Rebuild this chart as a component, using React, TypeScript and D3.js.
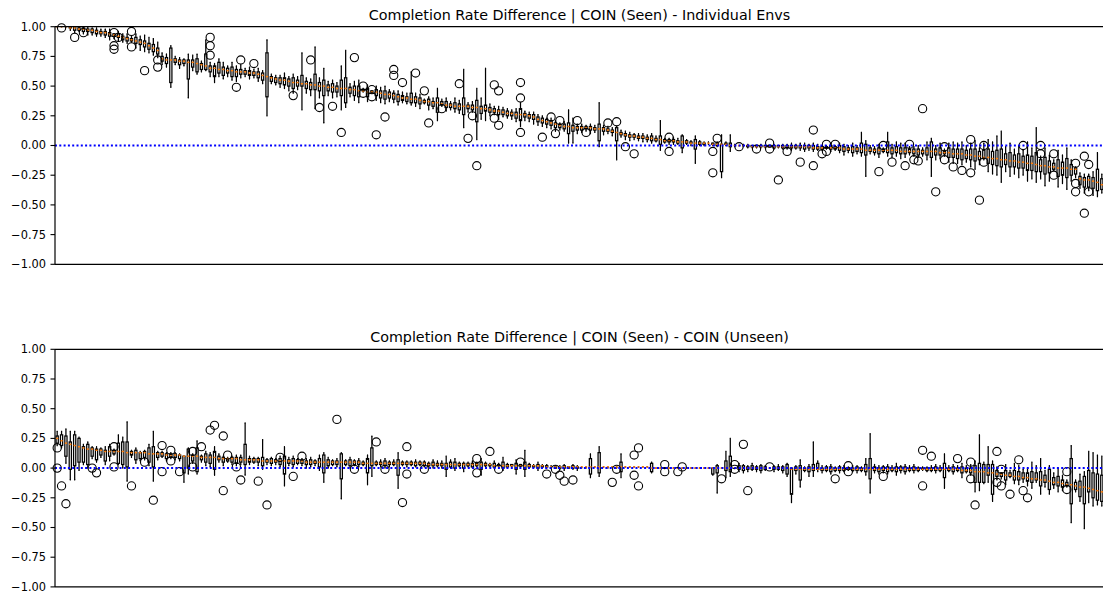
import React from 'react';
import * as d3 from 'd3';

// values are in hundredths (−100 … 100 ↔ −1.00 … 1.00)
const N = 240;
const yTicks = [-100, -75, -50, -25, 0, 25, 50, 75, 100];
const yTickLabels = ['−1.00', '−0.75', '−0.50', '−0.25', '0.00', '0.25', '0.50', '0.75', '1.00'];
const titles = [
  'Completion Rate Difference | COIN (Seen) - Individual Envs',
  'Completion Rate Difference | COIN (Seen) - COIN (Unseen)',
];

// ---------- Panel 1 ----------
const p1Lo = [
  100,100,100,97,95,96,94,93,93,92,
  92,91,89,90,88,87,86,87,82,80,
  79,78,76,74,68,66,49,68,65,67,
  40,63,60,62,63,58,53,58,56,58,
  55,54,57,58,56,57,54,52,25,52,
  51,49,48,46,44,47,30,44,42,31,
  40,19,42,40,41,30,32,41,38,36,
  45,37,44,38,36,35,37,36,34,36,
  35,34,33,31,35,30,31,21,33,29,
  30,28,27,15,28,28,5,22,21,25,
  26,22,24,23,22,20,16,21,20,18,
  17,16,15,14,12,13,12,2,2,10,
  11,12,10,11,-1,9,10,8,-12,7,
  5,4,5,4,3,3,2,3,-4,2,
  1,1,1,-6,1,0,-15,0,0,1,
  0,-1,-27,0,-5,-1,0,-1,-2,-2,
  -2,-2,-2,-1,-3,-2,-3,-3,-4,-3,
  -4,-5,-4,-5,-4,-4,-3,-5,-4,-6,
  -8,-6,-9,-7,-9,-26,-7,-8,-10,-6,
  -9,-10,-9,-11,-10,-8,-9,-10,-9,-12,
  -26,-12,-11,-9,-14,-15,-15,-16,-14,-18,
  -20,-16,-12,-22,-24,-25,-31,-22,-26,-24,
  -27,-25,-30,-28,-31,-28,-34,-30,-21,-35,
  -32,-37,-30,-27,-36,-40,-38,-42,-43,-40,
];
const p1Q1 = [
  100,100,100,99,97,97,96,96,95,94,
  94,93,92,92,91,89,88,88,86,85,
  83,81,79,77,71,69,53,70,68,69,
  56,66,62,64,64,62,58,61,59,61,
  58,58,60,60,59,59,57,55,41,54,
  53,52,51,50,48,50,50,48,47,47,
  46,42,46,45,45,42,36,44,42,41,
  46,41,45,42,40,39,40,39,37,38,
  37,36,36,35,36,34,33,28,34,32,
  32,31,30,26,31,30,20,27,29,28,
  28,26,26,25,25,23,21,24,23,22,
  20,19,18,17,15,15,14,10,12,13,
  13,14,13,13,4,12,12,11,4,9,
  8,7,7,6,6,5,4,4,1,3,
  3,3,2,-2,2,2,-3,1,1,2,
  1,0,-22,1,-1,0,0,0,-1,-1,
  -1,-1,-1,-1,-2,-1,-2,-2,-2,-2,
  -2,-3,-2,-3,-3,-3,-2,-3,-3,-4,
  -5,-4,-6,-5,-6,-8,-5,-6,-7,-5,
  -6,-7,-6,-7,-7,-6,-7,-8,-7,-8,
  -10,-8,-8,-7,-10,-10,-11,-12,-11,-12,
  -13,-12,-11,-15,-16,-17,-18,-16,-18,-18,
  -19,-19,-21,-21,-22,-22,-24,-23,-20,-26,
  -25,-27,-25,-24,-33,-35,-35,-36,-38,-37,
];
const p1Med = [
  100,100,100,99,99,98,98,97,97,96,
  95,95,94,93,92,91,90,89,88,87,
  86,84,82,80,73,72,72,72,71,71,
  70,70,69,68,67,65,65,64,64,63,
  63,62,62,62,61,61,60,59,58,57,
  56,55,55,54,53,53,52,52,51,51,
  50,50,49,49,48,48,48,47,47,46,
  46,45,45,45,44,43,43,42,41,40,
  40,39,39,38,37,37,36,36,35,34,
  34,33,33,33,33,32,32,31,31,30,
  29,29,28,27,27,26,26,26,25,24,
  22,21,20,19,18,17,16,16,15,15,
  15,15,15,14,14,14,13,12,11,10,
  9,8,8,7,7,6,6,5,5,4,
  4,4,3,3,3,2,2,2,2,2,
  1,1,1,1,0,0,0,0,0,-1,
  -1,-1,-1,-1,-1,-1,-1,-1,-1,-1,
  -1,-1,-1,-2,-2,-2,-2,-2,-2,-2,
  -3,-3,-3,-3,-3,-4,-4,-4,-4,-4,
  -4,-4,-4,-5,-5,-5,-5,-5,-5,-5,
  -5,-5,-6,-6,-6,-7,-7,-7,-8,-8,
  -9,-9,-10,-10,-11,-11,-12,-12,-13,-13,
  -14,-14,-15,-15,-16,-17,-17,-18,-18,-19,
  -19,-19,-20,-20,-28,-29,-29,-30,-31,-33,
];
const p1Q3 = [
  100,100,100,100,100,99,99,98,98,97,
  96,96,95,94,94,92,91,90,91,89,
  88,86,85,82,75,74,82,73,72,72,
  72,72,73,69,77,67,67,70,66,65,
  66,64,64,63,63,62,62,61,78,58,
  57,57,57,56,57,55,59,54,53,60,
  53,55,51,52,50,55,57,49,50,50,
  47,48,46,47,46,46,45,44,43,42,
  41,44,41,40,38,39,37,40,37,37,
  35,36,35,40,34,34,38,33,34,32,
  31,30,30,29,28,28,31,27,26,26,
  24,23,22,21,19,18,18,19,17,16,
  16,16,16,15,18,15,14,13,15,11,
  10,9,9,8,8,7,8,6,8,5,
  5,5,4,8,4,3,5,3,2,2,
  2,2,1,2,2,0,0,0,0,0,
  0,0,0,0,0,0,0,0,0,0,
  0,0,0,0,-1,-1,-1,0,-1,0,
  -1,-2,-1,-2,2,1,-2,-3,-2,-3,
  3,-2,-1,-2,-2,-3,-3,-3,-4,-2,
  3,-3,-2,-5,-2,-3,-3,-3,-4,-3,
  -3,-5,-4,-3,-5,-4,-3,-7,-6,-8,
  -7,-9,-8,-9,-6,-12,-10,-13,-15,-12,
  -14,-11,-16,-19,-26,-27,-26,-27,-20,-28,
];
const p1Hi = [
  100,100,100,100,100,100,100,100,99,99,
  98,98,98,94,96,94,94,92,94,92,
  93,91,90,87,78,77,84,75,74,73,
  77,76,77,71,89,70,69,73,70,67,
  70,67,68,65,66,64,65,63,89,60,
  59,59,61,58,60,58,78,57,56,83,
  57,65,54,55,53,67,80,52,54,55,
  48,51,46,50,49,50,47,46,46,45,
  44,62,44,43,39,41,40,48,39,40,
  37,40,38,64,36,37,48,40,65,35,
  33,33,32,31,30,31,36,29,28,28,
  26,25,23,23,21,19,20,30,23,18,
  18,17,18,17,36,17,16,15,16,13,
  12,11,10,10,10,9,10,8,21,6,
  6,7,6,9,5,4,8,4,3,3,
  2,3,9,3,9,1,0,1,1,0,
  0,1,0,0,1,0,1,1,2,1,
  2,2,1,2,1,0,0,2,0,2,
  1,0,2,0,11,4,0,-1,1,-2,
  11,1,3,2,2,-1,-1,0,-2,3,
  6,0,2,-3,2,3,2,3,0,2,
  4,-2,2,5,3,8,12,-1,2,-3,
  0,-4,3,-2,15,-9,-2,-8,-12,-4,
  -8,-2,-12,-18,-23,-24,-24,-22,-6,-24,
];
const p1Out = [
  [1,99],[4,91],[6,95],[13,95],[13,84],[13,81],[14,91],[17,96],[17,83],[20,63],[23,66],[23,72],
  [35,91],[35,84],[35,76],[41,49],[42,72],[45,69],[54,42],[58,72],[60,32],[63,33],[65,11],[68,74],
  [70,50],[70,44],[72,47],[72,41],[73,9],[75,24],[77,64],[77,59],[79,53],[82,61],[84,46],[85,19],
  [88,31],[92,52],[94,6],[95,25],[96,-17],[100,51],[100,23],[101,46],[101,17],[106,53],[106,40],
  [106,11],[111,7],[113,24],[114,10],[115,21],[119,21],[121,11],[126,19],[128,20],[130,-1],[132,-7],
  [140,7],[140,-5],[150,-23],[150,-5],[151,6],[156,-1],[160,-3],[163,2],[163,-3],[165,-29],[167,-5],
  [170,-14],[173,13],[173,-17],[175,-7],[176,-5],[176,1],[178,1],[188,-22],[189,0],[191,-14],
  [194,-17],[195,1],[196,-12],[197,-13],[198,31],[201,-39],[203,-1],[203,-12],[205,-18],[207,-21],
  [209,5],[209,-23],[211,-46],[212,0],[212,-14],[221,0],[225,0],[225,-7],[228,-7],[228,-25],
  [233,-15],[233,-32],[233,-39],[235,-9],[235,-57],[236,-16],[236,-39],
];

// ---------- Panel 2 ----------
const p2Lo = [
  19,17,4,-10,-10,-2,3,0,8,5,
  9,3,6,11,3,0,-11,9,4,6,
  7,2,-11,7,9,6,8,7,6,-12,
  -5,4,-5,5,2,1,-6,5,2,5,
  3,2,3,-6,3,4,2,-1,3,2,
  3,1,-15,2,1,3,2,0,1,2,
  -2,-12,0,2,1,-26,2,0,2,1,
  2,-14,-7,2,1,0,1,2,-17,2,
  1,2,1,2,1,1,0,1,0,-7,
  0,-2,1,-3,1,0,1,-6,1,1,
  0,1,-2,0,1,-5,1,-7,0,1,
  -2,0,0,0,0,-1,-2,0,-1,-2,
  0,0,-8,1,-7,1,0,1,0,-8,
  1,1,1,1,1,1,-4,0,0,0,
  0,0,0,0,0,0,0,0,0,0,
  -6,-21,0,-8,-7,0,-3,-4,-3,-2,
  -3,-4,-2,0,-3,-2,-4,-7,-29,-5,
  -16,-3,-7,-7,-3,-4,-3,-5,-3,-4,
  -3,-2,-3,-4,-3,-6,-21,-4,-5,-4,
  -5,-3,-6,-4,-5,-3,-4,-3,-2,-3,
  -3,-4,-3,-17,-3,-5,-3,-8,-4,-6,
  -20,-19,-13,-12,-28,-10,-9,-14,-8,-13,
  -14,-12,-15,-17,-12,-22,-16,-22,-17,-20,
  -19,-16,-46,-20,-28,-51,-29,-32,-31,-32,
];
const p2Q1 = [
  21,19,10,-1,2,5,5,3,10,7,
  11,6,10,12,4,3,1,11,7,8,
  9,5,1,9,10,8,9,9,8,-4,
  0,6,-3,7,5,4,-1,7,5,6,
  5,4,5,3,5,5,5,2,5,4,
  5,3,-5,4,3,4,4,3,3,4,
  1,-4,2,3,3,-9,3,2,3,3,
  3,-4,2,3,3,2,3,3,-6,3,
  3,3,2,3,2,2,2,2,2,-1,
  1,0,2,0,2,1,2,-1,2,2,
  1,2,0,1,2,-1,2,-1,1,1,
  0,1,1,1,0,0,0,0,0,0,
  1,1,-5,1,-4,1,1,1,1,-3,
  1,1,1,1,1,1,-3,0,0,0,
  0,0,0,0,0,0,0,0,0,0,
  -5,-4,0,-2,-3,0,-1,-2,-1,-1,
  -1,-2,-1,0,-1,-1,-2,-5,-22,-2,
  -10,-2,-3,-2,-1,-2,-2,-3,-2,-2,
  -2,-1,-2,-2,-2,-3,-9,-2,-3,-2,
  -3,-2,-3,-2,-3,-2,-2,-2,-1,-2,
  -2,-2,-2,-8,-2,-3,-2,-4,-3,-4,
  -12,-12,-12,-6,-22,-7,-7,-10,-7,-10,
  -10,-9,-11,-12,-10,-15,-12,-18,-14,-15,
  -16,-15,-30,-18,-24,-30,-20,-25,-27,-28,
];
const p2Med = [
  25,23,21,20,19,18,17,16,16,15,
  15,14,14,14,14,14,13,13,13,13,
  13,12,12,12,12,11,11,11,11,10,
  10,10,10,9,9,9,9,8,8,8,
  8,8,7,7,7,7,7,6,6,6,
  6,6,6,6,6,6,6,5,5,5,
  5,5,5,5,5,5,5,5,5,5,
  4,4,4,4,4,4,4,4,4,4,
  4,4,4,4,4,3,3,3,3,3,
  3,3,3,3,3,3,3,3,3,3,
  2,2,2,2,2,2,2,2,2,2,
  2,2,1,1,1,1,1,1,1,1,
  1,1,1,1,1,1,1,1,1,1,
  1,1,1,1,1,1,0,0,0,0,
  0,0,0,0,0,0,0,0,0,0,
  0,0,0,0,0,0,0,0,0,0,
  0,0,0,0,0,0,0,0,-1,-1,
  -1,-1,-1,-1,-1,-1,-1,-1,-1,-1,
  -1,-1,-1,-1,-1,-1,-1,-1,-1,-1,
  -1,-1,-1,-1,-1,-1,-1,-1,-1,-1,
  -1,-1,-1,-1,-1,-1,-1,-2,-2,-2,
  -3,-3,-3,-4,-4,-5,-5,-6,-6,-7,
  -7,-8,-8,-9,-9,-10,-10,-11,-12,-12,
  -13,-14,-14,-15,-16,-16,-17,-18,-19,-20,
];
const p2Q3 = [
  27,28,27,22,28,25,18,20,17,16,
  16,15,18,15,21,22,22,14,15,13,
  14,17,18,13,13,12,12,12,11,10,
  16,11,17,10,12,11,14,10,9,8,
  9,9,9,20,8,8,8,9,7,8,
  7,8,10,7,8,7,7,6,7,6,
  8,11,7,6,6,12,6,7,6,6,
  5,8,17,5,5,6,5,5,7,5,
  5,5,5,5,5,4,5,4,4,4,
  5,5,4,4,4,4,4,5,4,3,
  4,3,5,3,3,4,3,5,3,2,
  3,2,2,1,1,1,2,1,2,1,
  1,1,8,1,13,1,1,1,1,5,
  1,1,1,1,1,1,4,0,0,0,
  0,0,0,0,0,0,0,0,0,0,
  0,2,0,6,10,0,2,2,1,2,
  1,2,1,0,1,1,1,3,0,1,
  2,0,1,3,4,0,1,1,0,1,
  0,0,0,1,0,3,8,1,0,1,
  1,0,1,1,1,0,1,0,0,0,
  0,1,0,4,0,1,0,1,0,0,
  2,4,3,3,3,-2,-4,-2,-4,-2,
  -3,-4,-4,-3,-4,-3,-6,-1,-8,-7,
  -10,-12,8,-12,-11,-7,-2,-4,-5,-6,
];
const p2Hi = [
  31,31,33,31,31,26,20,22,18,18,
  17,18,20,16,28,26,39,15,17,14,
  15,20,31,14,14,13,13,13,12,10,
  17,12,23,11,14,13,18,12,10,9,
  10,11,11,38,10,9,9,24,8,9,
  8,10,18,9,10,8,8,8,9,7,
  11,13,9,7,8,13,7,9,7,8,
  6,11,27,6,7,8,6,7,13,6,
  6,6,7,6,6,5,7,6,6,10,
  7,8,5,5,5,6,5,8,5,4,
  6,4,9,4,3,7,3,15,4,3,
  5,3,3,2,2,2,3,1,3,2,
  1,1,12,1,18,1,1,1,1,12,
  1,1,1,1,1,1,5,0,0,0,
  0,0,0,0,0,0,0,0,0,0,
  0,3,0,14,25,0,4,3,2,4,
  2,3,2,0,2,3,2,4,0,2,
  7,1,3,22,6,2,2,3,1,2,
  2,1,2,2,1,8,29,3,2,2,
  3,2,4,2,3,2,3,1,1,1,
  2,3,2,12,2,3,2,4,2,3,
  6,28,5,18,6,1,-4,3,-2,4,
  2,-1,0,5,2,8,-2,2,-4,0,
  -6,-10,19,-10,-5,-3,14,13,11,10,
];
const p2Out = [
  [0,17],[0,0],[1,-15],[2,-30],[8,0],[9,-4],[13,18],[13,1],[17,-15],[20,5],[22,-27],[24,19],
  [24,-3],[26,15],[26,6],[28,-3],[31,14],[31,1],[33,18],[35,32],[36,36],[38,27],[38,-19],[39,11],
  [41,1],[42,-10],[46,-11],[48,-31],[51,9],[54,-7],[56,10],[64,41],[68,-1],[73,22],[75,-1],
  [79,-29],[80,18],[80,-5],[84,-1],[96,8],[96,-4],[99,14],[101,-1],[106,5],[112,-5],[114,-1],
  [115,-6],[116,-11],[118,-10],[127,-12],[128,-1],[132,11],[132,-6],[133,17],[133,-15],[139,3],
  [139,-3],[142,-3],[143,1],[152,-9],[155,3],[155,-1],[157,20],[158,-19],[163,1],[178,-9],
  [181,2],[181,-3],[189,-7],[198,15],[198,-15],[200,10],[206,8],[209,5],[209,-9],[210,-31],
  [215,14],[215,-12],[216,-1],[216,-15],[218,-22],[220,7],[221,-19],[222,-25],[231,-3],[231,-18],
];

const L = 55;
const R = 1104;
const H = 237.6;
const FONT = '"DejaVu Sans", sans-serif';

type PanelProps = {
  top: number; title: string;
  lo: number[]; q1: number[]; med: number[]; q3: number[]; hi: number[];
  out: number[][];
};

function Panel({ top, title, lo, q1, med, q3, hi, out }: PanelProps) {
  const y = d3.scaleLinear().domain([-100, 100]).range([top + H, top]);
  const x = d3.scaleLinear().domain([0.5, N + 0.5]).range([L, R]);
  const hw = x(1.25) - x(1);
  const cw = hw / 2;
  const idx = d3.range(N);
  return (
    <g>
      {idx.map((i) => {
        const cx = x(i + 1);
        return (
          <g key={i} stroke="#000" strokeWidth={1.25} fill="none">
            <rect x={cx - hw} y={y(q3[i])} width={2 * hw} height={Math.max(0, y(q1[i]) - y(q3[i]))} />
            <line x1={cx} x2={cx} y1={y(q1[i])} y2={y(lo[i])} />
            <line x1={cx} x2={cx} y1={y(q3[i])} y2={y(hi[i])} />
            <line x1={cx - cw} x2={cx + cw} y1={y(lo[i])} y2={y(lo[i])} />
            <line x1={cx - cw} x2={cx + cw} y1={y(hi[i])} y2={y(hi[i])} />
            <line x1={cx - hw} x2={cx + hw} y1={y(med[i])} y2={y(med[i])} stroke="#ff7f0e" strokeWidth={1.5} />
          </g>
        );
      })}
      {out.map(([i, v], k) => (
        <circle key={k} cx={x(i + 1)} cy={y(v)} r={4.1} fill="none" stroke="#000" strokeWidth={1.1} />
      ))}
      <line x1={L} x2={R} y1={y(0)} y2={y(0)} stroke="#0000ff" strokeWidth={2} strokeDasharray="2,2.3" />
      <line x1={L} x2={L} y1={top} y2={top + H} stroke="#000" strokeWidth={1.2} />
      <line x1={L} x2={R} y1={top} y2={top} stroke="#000" strokeWidth={1.2} />
      <line x1={L} x2={R} y1={top + H} y2={top + H} stroke="#000" strokeWidth={1.2} />
      {yTicks.map((t, k) => (
        <g key={t}>
          <line x1={L - 4.5} x2={L} y1={y(t)} y2={y(t)} stroke="#000" strokeWidth={1.1} />
          <text x={L - 9} y={y(t)} dy="0.35em" textAnchor="end" fontFamily={FONT} fontSize={11.4} fill="#000">
            {yTickLabels[k]}
          </text>
        </g>
      ))}
      <text x={(L + R) / 2} y={top - 7} textAnchor="middle" fontFamily={FONT} fontSize={14.3} fill="#000">
        {title}
      </text>
    </g>
  );
}

export default function App() {
  return (
    <svg width={1103} height={594} style={{ position: 'absolute', left: 0, top: 0, background: '#fff' }}>
      <rect width={1103} height={594} fill="#fff" />
      <Panel top={26.7} title={titles[0]} lo={p1Lo} q1={p1Q1} med={p1Med} q3={p1Q3} hi={p1Hi} out={p1Out} />
      <Panel top={349.3} title={titles[1]} lo={p2Lo} q1={p2Q1} med={p2Med} q3={p2Q3} hi={p2Hi} out={p2Out} />
    </svg>
  );
}
